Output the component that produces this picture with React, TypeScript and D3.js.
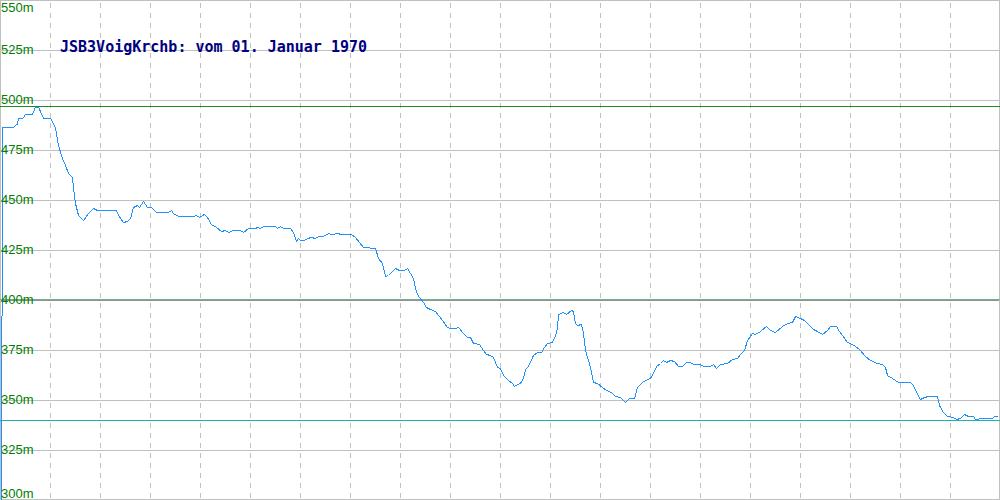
import React from "react";
import * as d3 from "d3";

const TITLE = "JSB3VoigKrchb: vom 01. Januar 1970";
const yTicks = [550, 525, 500, 475, 450, 425, 400, 375, 350, 325, 300];
const xGrid = [50, 100, 150, 200, 250, 300, 350, 400, 450, 500, 550, 600, 650, 700, 750, 800, 850, 900, 950];
const maxLevel = 497;
const minLevel = 340;
const avgLevel = 400.5;

const distance = [
  1, 2, 13, 17, 18, 22, 25, 32, 35, 38, 43, 50, 53, 55, 58, 62, 65, 68, 72, 73, 75, 78, 83, 88, 93, 97,
  116, 118, 123, 127, 130, 133, 137, 139, 143, 147, 151, 156, 168, 171, 173, 178, 193, 196, 199, 204,
  207, 211, 216, 221, 225, 228, 233, 240, 243, 248, 255, 257, 260, 263, 275, 277, 280, 283, 290, 293,
  296, 298, 300, 304, 307, 311, 315, 318, 323, 328, 331, 338, 340, 351, 355, 363, 375, 378, 382, 385,
  388, 395, 399, 404, 407, 410, 413, 416, 419, 423, 426, 430, 435, 442, 447, 450, 455, 458, 463, 467,
  470, 473, 479, 483, 486, 490, 493, 497, 500, 503, 508, 512, 514, 517, 520, 523, 525, 528, 533, 537,
  541, 544, 547, 552, 555, 557, 558, 563, 566, 571, 573, 575, 577, 581, 583, 585, 590, 593, 597, 602,
  606, 611, 615, 620, 625, 629, 634, 637, 642, 647, 650, 653, 656, 660, 663, 666, 670, 674, 678, 682,
  686, 690, 693, 700, 703, 710, 713, 716, 720, 727, 732, 737, 740, 744, 747, 752, 755, 760, 766, 770,
  775, 782, 787, 792, 795, 800, 804, 808, 813, 817, 822, 827, 830, 836, 839, 842, 847, 850, 855, 859,
  865, 870, 877, 882, 885, 887, 892, 898, 910, 913, 917, 920, 924, 928, 937, 939, 943, 947, 953, 956,
  960, 964, 968, 973, 975, 982, 992, 994, 997,
];

const elevation = [
  290, 486.5, 486.5, 488.3, 490.8, 490.8, 493, 493, 496.7, 496.7, 491, 491, 488.5, 486, 477.5, 471, 467.5, 463.5, 461.5, 456.5, 448.5, 442.5, 440, 443.5, 446, 445,
  445, 442.5, 439, 439.5, 441, 446.5, 447.5, 446.5, 449.5, 446.5, 446.5, 444, 444, 445, 443.5, 442, 442, 442.5, 441.5, 443,
  441.5, 438, 436.5, 434.5, 435, 434, 435, 435, 434, 436, 436, 436.5, 436, 437, 437, 436, 437, 436, 436, 434,
  429.5, 431, 430, 430, 431, 431.5, 431, 432, 432, 433.5, 433, 433.5, 433, 433, 431.5, 426.5, 426, 421, 418.5, 412,
  412.5, 416, 415, 415, 416, 413.5, 411, 404, 401.5, 399, 396.5, 395.5, 394.5, 390, 386.5, 386, 386, 386.5, 383.5, 381.5,
  381.5, 378.5, 378, 375, 373, 372.5, 371.5, 366.5, 366, 362.5, 360, 358.5, 357, 358, 358.5, 361, 365.5, 367, 372.5, 374,
  374, 376.5, 378.5, 379, 382.5, 386, 393, 394, 393, 395, 394.5, 388.5, 387.5, 388, 383.5, 375, 366.5, 359, 358.5, 356.5,
  355, 354, 352, 351.5, 349, 351, 351, 356.5, 359, 360.5, 361, 363.5, 367, 368.5, 370, 369, 370, 369.5, 367, 367,
  369, 369, 368, 368, 367, 367, 368, 366, 368, 368.5, 370.5, 371, 373, 375, 380, 383.5, 383, 384.5, 387, 385,
  384, 387, 388.5, 389, 392, 391, 390, 388, 385.5, 384.5, 383, 385, 387, 387, 384.5, 382.5, 379, 378.5, 377, 375.5,
  372, 370, 368.5, 368, 366.5, 362.5, 361, 359, 359, 357.5, 353, 350.5, 351.5, 352, 352, 347.5, 344, 342, 341.5, 340.5,
  341, 343, 342, 342, 340.5, 341, 341, 342, 342,
];

const W = 1000;
const H = 500;

export default function App() {
  const x = d3.scaleLinear().domain([0, 1000]).range([0, 1000]);
  const y = d3.scaleLinear().domain([300, 550]).range([500, 0]);
  const py = (v: number) => Math.min(H - 1, Math.max(0, Math.round(y(v)))) + 0.5;

  const pts: [number, number][] = distance.map((d, i) => [d, elevation[i]]);
  const line = d3
    .line<[number, number]>()
    .x((d) => x(d[0]) + 0.5)
    .y((d) => y(d[1]) + 0.5);

  const labelBaseline = (v: number) => {
    const p = Math.round(y(v));
    if (p <= 0) return 12;
    if (p >= H) return 498;
    return p + 4;
  };

  return (
    <svg
      width={W}
      height={H}
      style={{ position: "absolute", left: 0, top: 0, background: "#ffffff" }}
      shapeRendering="crispEdges"
    >
      <rect x={0} y={0} width={W} height={H} fill="#ffffff" />
      {xGrid.map((g) => (
        <line
          key={"v" + g}
          x1={x(g) + 0.5}
          x2={x(g) + 0.5}
          y1={3}
          y2={H}
          stroke="#c0c0c0"
          strokeWidth={1}
          strokeDasharray="5,5"
        />
      ))}
      {yTicks.map((t) => (
        <line
          key={"h" + t}
          x1={0}
          x2={W}
          y1={py(t)}
          y2={py(t)}
          stroke={t === 400 ? "#909090" : "#c0c0c0"}
          strokeWidth={1}
        />
      ))}
      <line x1={0.5} x2={0.5} y1={0} y2={H} stroke="#c0c0c0" />
      <line x1={W - 0.5} x2={W - 0.5} y1={0} y2={H} stroke="#c0c0c0" />
      <line x1={0} x2={W} y1={py(maxLevel)} y2={py(maxLevel)} stroke="#1c8c1c" />
      <line x1={0} x2={W} y1={py(avgLevel)} y2={py(avgLevel)} stroke="#78b088" />
      <line x1={0} x2={W} y1={py(minLevel)} y2={py(minLevel)} stroke="#20b2aa" />
      <path d={line(pts) || ""} fill="none" stroke="#1e90ff" strokeWidth={1} />
      {yTicks.map((t) => (
        <text
          key={"l" + t}
          x={1}
          y={labelBaseline(t)}
          fill="#008000"
          fontFamily="'Liberation Sans', Arial, sans-serif"
          fontSize={13}
        >
          {t}m
        </text>
      ))}
      <text
        x={60}
        y={52}
        fill="#000080"
        fontFamily="'DejaVu Sans Mono', monospace"
        fontWeight="bold"
        fontSize={15}
      >
        {TITLE}
      </text>
    </svg>
  );
}
